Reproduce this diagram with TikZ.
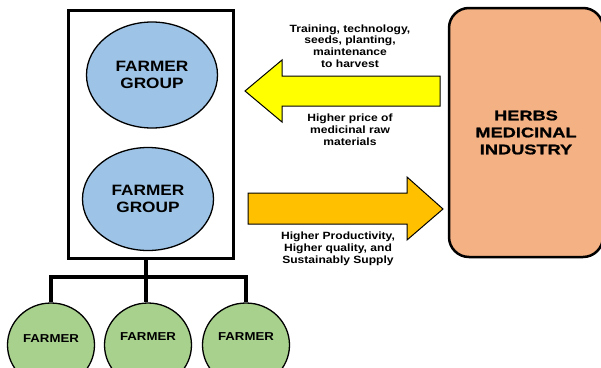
\documentclass[tikz,border=0pt]{standalone}
\usepackage{fontspec}
\setmainfont{Liberation Sans}[FakeStretch=1.15]
\newfontfamily\herbfont{Liberation Sans}[FakeStretch=1.3, BoldFeatures={FakeBold=1.2}]
\usetikzlibrary{shapes.geometric}
\definecolor{blueell}{HTML}{9DC3E6}
\definecolor{greenell}{HTML}{A9D18E}
\definecolor{yelarrow}{HTML}{FFFF00}
\definecolor{orarrow}{HTML}{FFC000}
\definecolor{herbfill}{HTML}{F4B183}
\tikzset{
  grpbox/.style={draw, line width=3pt, fill=white, minimum width=165pt, minimum height=248pt, inner sep=0pt},
  grpell/.style={ellipse, draw, line width=1.3pt, fill=blueell, inner sep=0pt, align=center,
    font=\fontsize{15}{17}\selectfont\bfseries},
  farmell/.style={ellipse, draw, line width=1.3pt, fill=greenell, inner sep=0pt, minimum width=87pt, minimum height=84pt},
  farmtxt/.style={font=\fontsize{11.5}{13}\selectfont\bfseries, inner sep=0pt},
  lbl/.style={align=center, font=\fontsize{10.5}{11.8}\selectfont\bfseries, inner sep=0pt},
  herbbox/.style={draw, line width=2.5pt, fill=herbfill, rounded corners=20pt, minimum width=154pt, minimum height=249pt,
    align=center, font=\herbfont\fontsize{14}{17}\selectfont\bfseries, inner sep=0pt},
  tree/.style={line width=4pt},
  bigarrow/.style={draw, line width=1pt, line join=miter}
}
\begin{document}
\begin{tikzpicture}[x=1pt, y=-1pt]
\useasboundingbox (0,0) rectangle (601,367);
\begin{scope}
\clip (0,0) rectangle (601,367);
% farmer group box
\node[grpbox] (grp) at (150.5,134) {};
\node[grpell, minimum width=131pt, minimum height=106pt] (g1) at (152,75) {FARMER\\GROUP};
\node[grpell, minimum width=131pt, minimum height=103pt] (g2) at (148,199) {FARMER\\GROUP};
% herbs
\node[herbbox] (herb) at (526,132.5) {HERBS\\MEDICINAL\\INDUSTRY};
% arrows
\draw[bigarrow, fill=yelarrow] (440,76) -- (282,76) -- (282,60) -- (245,91) -- (282,122) -- (282,106) -- (440,106) -- cycle;
\draw[bigarrow, fill=orarrow] (248,193) -- (407,193) -- (407,177) -- (443,209) -- (407,240) -- (407,224) -- (248,224) -- cycle;
% labels
\node[lbl] (t1) at (350,46) {Training, technology,\\seeds, planting,\\maintenance\\to harvest};
\node[lbl] (t2) at (350,130) {Higher price of\\medicinal raw\\materials};
\node[lbl] (t3) at (338,249) {Higher Productivity,\\Higher quality, and\\Sustainably Supply};
% farmers
\node[farmell] (f1) at (51,345) {};
\node[farmell] (f2) at (148,345) {};
\node[farmell] (f3) at (246,345) {};
\node[farmtxt] at (51,339) {FARMER};
\node[farmtxt] at (148,337) {FARMER};
\node[farmtxt] at (246,337) {FARMER};
% tree
\coordinate (j) at (146,277);
\draw[tree] (146,259.5) -- (j);
\draw[tree, line cap=rect] (f1.north |- j) -- (j -| f3.north);
\draw[tree] (f1.north |- j) -- (f1.north);
\draw[tree] (j) -- (j |- f2.north);
\draw[tree] (f3.north |- j) -- (f3.north);
\end{scope}
\end{tikzpicture}
\end{document}
